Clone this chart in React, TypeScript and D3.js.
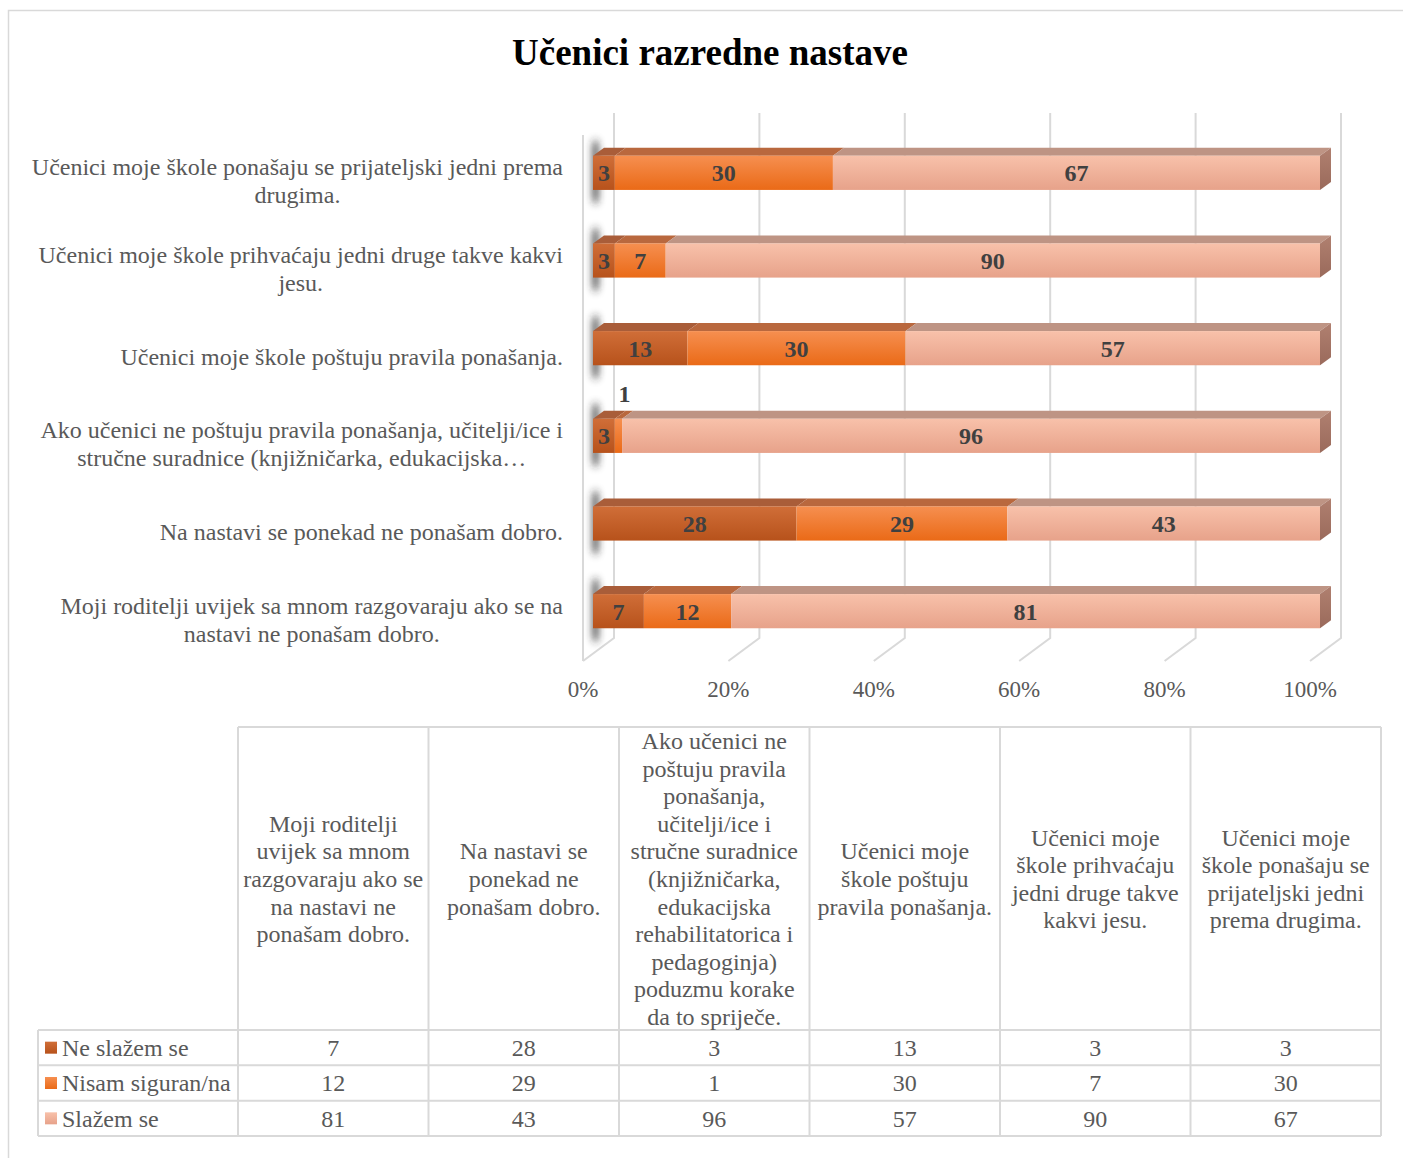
import * as d3 from 'd3';

// categories in series order (bottom bar first, same as table columns)
const categories = [
  'Moji roditelji uvijek sa mnom razgovaraju ako se na nastavi ne ponašam dobro.',
  'Na nastavi se ponekad ne ponašam dobro.',
  'Ako učenici ne poštuju pravila ponašanja, učitelji/ice i stručne suradnice (knjižničarka, edukacijska rehabilitatorica i pedagoginja) poduzmu korake da to spriječe.',
  'Učenici moje škole poštuju pravila ponašanja.',
  'Učenici moje škole prihvaćaju jedni druge takve kakvi jesu.',
  'Učenici moje škole ponašaju se prijateljski jedni prema drugima.',
];

// category axis labels as wrapped in the chart
const axisLabels = [
  ['Moji roditelji uvijek sa mnom razgovaraju ako se na', 'nastavi ne ponašam dobro.'],
  ['Na nastavi se ponekad ne ponašam dobro.'],
  ['Ako učenici ne poštuju pravila ponašanja, učitelji/ice i', 'stručne suradnice (knjižničarka, edukacijska…'],
  ['Učenici moje škole poštuju pravila ponašanja.'],
  ['Učenici moje škole prihvaćaju jedni druge takve kakvi', 'jesu.'],
  ['Učenici moje škole ponašaju se prijateljski jedni prema', 'drugima.'],
];

// data table header, wrapped
const headerLines = [
  ['Moji roditelji', 'uvijek sa mnom', 'razgovaraju ako se', 'na nastavi ne', 'ponašam dobro.'],
  ['Na nastavi se', 'ponekad ne', 'ponašam dobro.'],
  ['Ako učenici ne', 'poštuju pravila', 'ponašanja,', 'učitelji/ice i', 'stručne suradnice', '(knjižničarka,', 'edukacijska', 'rehabilitatorica i', 'pedagoginja)', 'poduzmu korake', 'da to spriječe.'],
  ['Učenici moje', 'škole poštuju', 'pravila ponašanja.'],
  ['Učenici moje', 'škole prihvaćaju', 'jedni druge takve', 'kakvi jesu.'],
  ['Učenici moje', 'škole ponašaju se', 'prijateljski jedni', 'prema drugima.'],
];

const seriesNames = ['Ne slažem se', 'Nisam siguran/na', 'Slažem se'];
const neSlazemSe = [7, 28, 3, 13, 3, 3];
const nisamSiguran = [12, 29, 1, 30, 7, 30];
const slazemSe = [81, 43, 96, 57, 90, 67];
const xTicks = [0, 20, 40, 60, 80, 100];

const FONT = '"Liberation Serif", "Times New Roman", serif';
const faceColors = [
  ['#d06e38', '#b7521b'],
  ['#f68f50', '#ea6a17'],
  ['#f8c1aa', '#e7a28a'],
];
const topColors = ['#a95d39', '#b9683e', '#be9484'];
const gridColor = '#d9d9d9';
const textColor = '#595959';

type Row = { cat: string; s0: number; s1: number; s2: number };

let measureCtx: CanvasRenderingContext2D | null = null;
function textWidth(s: string, size: number) {
  if (!measureCtx) measureCtx = document.createElement('canvas').getContext('2d');
  if (!measureCtx) return s.length * size * 0.45;
  measureCtx.font = `${size}px ${FONT}`;
  return measureCtx.measureText(s).width;
}

export default function App() {
  const width = 1403;
  const height = 1158;

  const rows: Row[] = categories.map((c, i) => ({
    cat: c,
    s0: neSlazemSe[i],
    s1: nisamSiguran[i],
    s2: slazemSe[i],
  }));
  const stacked = d3.stack<Row>().keys(['s0', 's1', 's2'])(rows);

  // front face of the bars
  const x = d3.scaleLinear().domain([0, 100]).range([593, 1320]);
  const y = d3
    .scaleBand<string>()
    .domain([...categories].reverse())
    .range([129, 655])
    .paddingInner(0.61)
    .paddingOuter(0.305);
  const bw = y.bandwidth();

  // 3d offsets
  const wallDx = 21;
  const floorDx = -10;
  const wallTop = 113;
  const wallBottom = 638;
  const floorFront = 661;
  const barDx = 11;
  const barDy = -8;
  const labelRight = 563;

  // table
  const col = d3.scaleBand<string>().domain(categories).range([238, 1381]);
  const tableLeft = 38;
  const headTop = 727;
  const headBottom = 1030;
  const row = d3.scaleBand<string>().domain(seriesNames).range([headBottom, 1136]);
  const seriesValues = [neSlazemSe, nisamSiguran, slazemSe];
  const lineH = 27.6;

  return (
    <div style={{ position: 'absolute', left: 0, top: 0 }}>
      <svg width={width} height={height} style={{ display: 'block', background: '#fff' }}>
        <defs>
          {faceColors.map((c, i) => (
            <linearGradient key={i} id={`face${i}`} x1="0" y1="0" x2="0" y2="1">
              <stop offset="0%" stopColor={c[0]} />
              <stop offset="100%" stopColor={c[1]} />
            </linearGradient>
          ))}
          <linearGradient id="side" x1="0" y1="0" x2="0" y2="1">
            <stop offset="0%" stopColor="#b08070" />
            <stop offset="100%" stopColor="#9a6a5b" />
          </linearGradient>
          <filter id="blur" x="-300%" y="-50%" width="700%" height="200%">
            <feGaussianBlur stdDeviation="3.5 5" />
          </filter>
        </defs>

        {/* outer frame */}
        <rect x={8.5} y={10.5} width={1500} height={1500} fill="none" stroke={gridColor} strokeWidth={1.5} />

        <text x={710} y={65} textAnchor="middle" fontFamily={FONT} fontSize={37} fontWeight="bold" fill="#000">
          Učenici razredne nastave
        </text>

        {/* walls and gridlines */}
        <line x1={x(0) + floorDx} x2={x(0) + floorDx} y1={135} y2={floorFront} stroke={gridColor} strokeWidth={2} />
        {xTicks.map(t => (
          <g key={t}>
            <polyline
              points={`${x(t) + wallDx},${wallTop} ${x(t) + wallDx},${wallBottom} ${x(t) + floorDx},${floorFront}`}
              fill="none"
              stroke={gridColor}
              strokeWidth={2}
            />
            <text x={x(t) + floorDx} y={697} textAnchor="middle" fontFamily={FONT} fontSize={23} fill={textColor}>
              {t}%
            </text>
          </g>
        ))}

        {/* shadows on the left wall */}
        {categories.map(c => (
          <rect key={c} x={592} y={(y(c) ?? 0) - 14} width={7} height={bw + 26} fill="#222" opacity={0.7} filter="url(#blur)" />
        ))}

        {/* bars */}
        {stacked.map((s, si) => (
          <g key={s.key}>
            {s.map((d, i) => {
              const yt = y(categories[i]) ?? 0;
              const x0 = x(d[0]);
              const x1 = x(d[1]);
              return (
                <g key={i}>
                  <polygon
                    points={`${x0},${yt} ${x1},${yt} ${x1 + barDx},${yt + barDy} ${x0 + barDx},${yt + barDy}`}
                    fill={topColors[si]}
                  />
                  <rect x={x0} y={yt} width={x1 - x0} height={bw} fill={`url(#face${si})`} />
                </g>
              );
            })}
          </g>
        ))}
        {categories.map(c => {
          const yt = y(c) ?? 0;
          const xe = x(100);
          return (
            <polygon
              key={c}
              points={`${xe},${yt} ${xe + barDx},${yt + barDy} ${xe + barDx},${yt + bw + barDy} ${xe},${yt + bw}`}
              fill="url(#side)"
            />
          );
        })}

        {/* bar labels */}
        {stacked.map((s, si) =>
          s.map((d, i) => {
            const v = d[1] - d[0];
            const cy = (y(categories[i]) ?? 0) + bw / 2;
            const small = v < 2;
            return (
              <text
                key={`${si}-${i}`}
                x={(x(d[0]) + x(d[1])) / 2 + (small ? 6 : 0)}
                y={small ? cy - 42 : cy}
                dy="0.35em"
                textAnchor="middle"
                fontFamily={FONT}
                fontSize={24}
                fontWeight="bold"
                fill="#404040"
              >
                {v}
              </text>
            );
          })
        )}

        {/* category axis labels: box right-aligned, lines centred in it */}
        {categories.map((c, i) => {
          const lines = axisLabels[i];
          const cy = (y(c) ?? 0) + bw / 2 + 8;
          const boxW = d3.max(lines, l => textWidth(l, 24)) ?? 0;
          const cx = labelRight - boxW / 2;
          return (
            <text key={c} textAnchor="middle" fontFamily={FONT} fontSize={24} fill={textColor}>
              {lines.map((l, li) => (
                <tspan key={li} x={cx} y={cy + (li - (lines.length - 1) / 2) * 28} dy="0.35em">
                  {l}
                </tspan>
              ))}
            </text>
          );
        })}

        {/* data table */}
        <g stroke={gridColor} strokeWidth={2}>
          <line x1={238} x2={1381} y1={headTop} y2={headTop} />
          {seriesNames.map(n => (
            <line key={n} x1={tableLeft} x2={1381} y1={row(n)} y2={row(n)} />
          ))}
          <line x1={tableLeft} x2={1381} y1={1136} y2={1136} />
          <line x1={tableLeft} x2={tableLeft} y1={headBottom} y2={1136} />
          {categories.map(c => (
            <line key={c} x1={col(c)} x2={col(c)} y1={headTop} y2={1136} />
          ))}
          <line x1={1381} x2={1381} y1={headTop} y2={1136} />
        </g>
        {categories.map((c, i) => {
          const lines = headerLines[i];
          const cx = (col(c) ?? 0) + col.bandwidth() / 2;
          const cy = (headTop + headBottom) / 2;
          return (
            <text key={c} textAnchor="middle" fontFamily={FONT} fontSize={24} fill={textColor}>
              {lines.map((l, li) => (
                <tspan key={li} x={cx} y={cy + (li - (lines.length - 1) / 2) * lineH} dy="0.35em">
                  {l}
                </tspan>
              ))}
            </text>
          );
        })}
        {seriesNames.map((n, si) => {
          const cy = (row(n) ?? 0) + row.bandwidth() / 2;
          return (
            <g key={n}>
              <rect x={45} y={cy - 6} width={12} height={12} fill={`url(#face${si})`} />
              <text x={62} y={cy} dy="0.35em" fontFamily={FONT} fontSize={24} fill={textColor}>
                {n}
              </text>
              {categories.map((c, i) => (
                <text
                  key={c}
                  x={(col(c) ?? 0) + col.bandwidth() / 2}
                  y={cy}
                  dy="0.35em"
                  textAnchor="middle"
                  fontFamily={FONT}
                  fontSize={24}
                  fill={textColor}
                >
                  {seriesValues[si][i]}
                </text>
              ))}
            </g>
          );
        })}
      </svg>
    </div>
  );
}
